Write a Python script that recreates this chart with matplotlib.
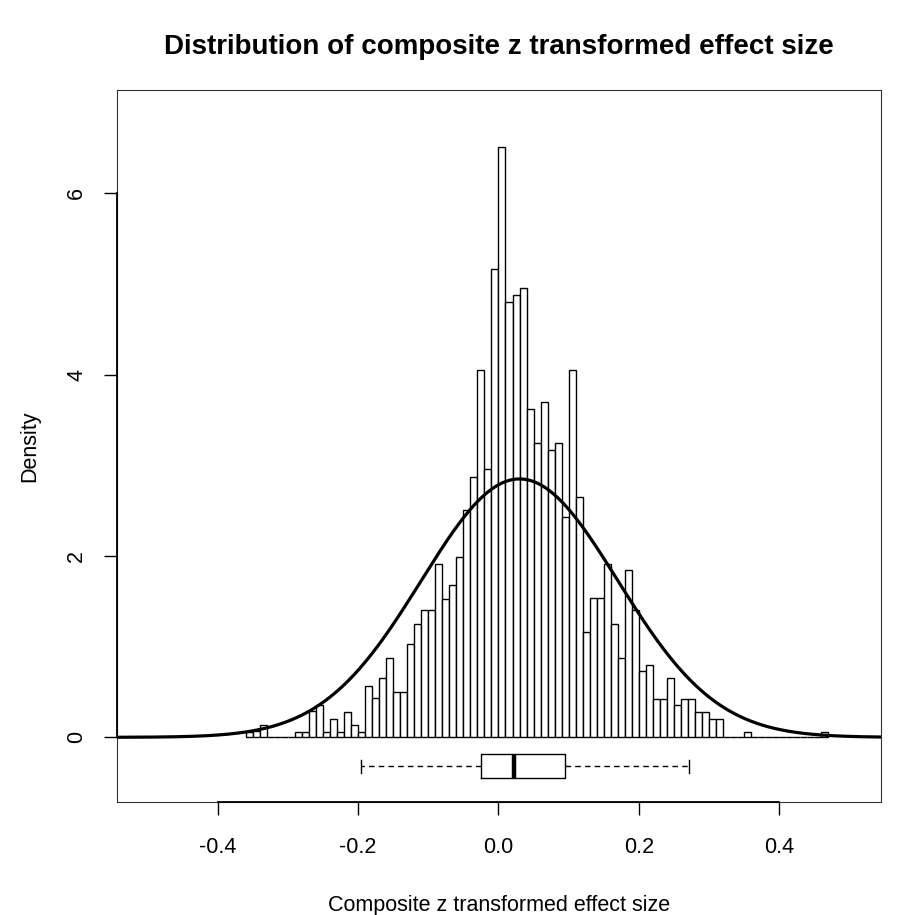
import matplotlib
matplotlib.use('Agg')
import matplotlib.pyplot as plt
import numpy as np

plt.rcParams['font.family'] = ['Liberation Sans', 'DejaVu Sans']

# Histogram (density); bins of width 0.01 starting at -0.36
bin_start = -0.36
bin_width = 0.01
density = [0.055, 0.07, 0.14, 0, 0, 0, 0, 0.055, 0.055, 0.29,
           0.36, 0.055, 0.20, 0.055, 0.28, 0.14, 0.055, 0.57, 0.43, 0.65,
           0.88, 0.50, 0.50, 1.03, 1.25, 1.40, 1.40, 1.91, 1.53, 1.68,
           1.99, 2.51, 2.87, 4.05, 2.96, 5.17, 6.51, 4.80, 4.88, 4.96,
           3.62, 3.25, 3.70, 3.17, 3.25, 2.43, 4.05, 2.65, 1.165, 1.54,
           1.54, 1.91, 1.25, 0.88, 1.85, 1.40, 0.73, 0.80, 0.42, 0.42,
           0.65, 0.36, 0.42, 0.42, 0.28, 0.28, 0.20, 0.20, 0, 0,
           0, 0.055, 0, 0, 0, 0, 0, 0, 0, 0,
           0, 0, 0.055]

# Fitted normal curve parameters
norm_mean = 0.03
norm_sd = 0.14

# Boxplot statistics
box_stats = {'whislo': -0.196, 'q1': -0.025, 'med': 0.022, 'q3': 0.095, 'whishi': 0.272}
box_pos = -0.318

x_ticks = [-0.4, -0.2, 0.0, 0.2, 0.4]
x_ticklabels = ['-0.4', '-0.2', '0.0', '0.2', '0.4']
y_ticks = [0, 2, 4, 6]
y_ticklabels = ['0', '2', '4', '6']

title = 'Distribution of composite z transformed effect size'
xlabel = 'Composite z transformed effect size'
ylabel = 'Density'

W, H = 906, 915
fig = plt.figure(figsize=(W / 100, H / 100), dpi=100)
L, R, T, B = 117, 881, 90, 801.7
ax = fig.add_axes([L / W, 1 - B / H, (R - L) / W, (B - T) / H])

xlim = (-0.5434, 0.5449)
ylim = (-0.710, 7.139)

edges = np.round(bin_start + bin_width * np.arange(len(density) + 1), 4)
ax.bar(edges[:-1], density, width=bin_width, align='edge',
       facecolor='white', edgecolor='black', linewidth=1.0, zorder=2)

xs = np.linspace(xlim[0], xlim[1], 800)
ys = np.exp(-0.5 * ((xs - norm_mean) / norm_sd) ** 2) / (norm_sd * np.sqrt(2 * np.pi))
ax.plot(xs, ys, color='black', lw=2.3, zorder=3)

ax.bxp([box_stats], positions=[box_pos], widths=0.268, orientation='horizontal',
       showfliers=False, capwidths=[0.14],
       boxprops=dict(color='black', lw=1.0),
       whiskerprops=dict(color='black', lw=1.0, linestyle=(0, (4, 3))),
       capprops=dict(color='black', lw=1.0),
       medianprops=dict(color='black', lw=3.2),
       manage_ticks=False, zorder=3)

ax.set_xlim(*xlim)
ax.set_ylim(*ylim)

for s in ax.spines.values():
    s.set_linewidth(0.8)
    s.set_color('#333333')

# axis lines spanning the tick range (R style)
ax.plot([x_ticks[0], x_ticks[-1]], [ylim[0], ylim[0]], color='black', lw=1.3,
        clip_on=False, zorder=5)
ax.plot([xlim[0], xlim[0]], [y_ticks[0], y_ticks[-1]], color='black', lw=1.3,
        clip_on=False, zorder=5)

ax.set_xticks(x_ticks)
ax.set_xticklabels(x_ticklabels)
ax.set_yticks(y_ticks)
ax.set_yticklabels(y_ticklabels, rotation=90, va='center')
ax.tick_params(axis='both', direction='out', length=9.4, width=1.0, labelsize=15.5)
ax.tick_params(axis='x', pad=16)
ax.tick_params(axis='y', pad=12)

fig.text((L + R) / 2 / W, 1 - 47 / H, title, ha='center', va='center',
         fontsize=20, fontweight='bold')
fig.text((L + R) / 2 / W, 1 - 905 / H, xlabel, ha='center', va='center', fontsize=15.5)
fig.text(30 / W, 1 - (T + B) / 2 / H, ylabel, ha='center', va='center',
         rotation=90, fontsize=15.5)

fig.savefig('out.png', dpi=100)
